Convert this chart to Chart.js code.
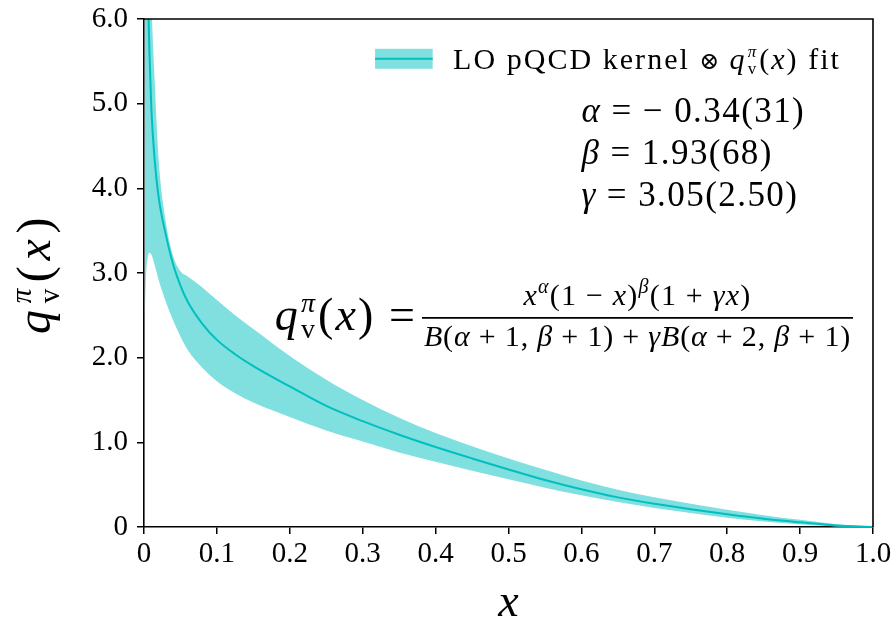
<!DOCTYPE html>
<html>
<head>
<meta charset="utf-8">
<script src="https://cdn.jsdelivr.net/npm/chart.js@4.4.1/dist/chart.umd.min.js"></script>
<style>
  body { margin: 0; background: #fff; }
  #c { display: block; }
</style>
</head>
<body>
<canvas id="c" width="895" height="622"></canvas>
<script>
// x grid and the values
const xs = [0.001, 0.003, 0.005, 0.0075, 0.01, 0.015, 0.02, 0.03, 0.04, 0.05, 0.06, 0.08, 0.1, 0.125, 0.15, 0.2, 0.25, 0.3, 0.35, 0.4, 0.45, 0.5, 0.55, 0.6, 0.65, 0.7, 0.75, 0.8, 0.85, 0.9, 0.95, 1.0]
const fitLine = [9.5, 7.2, 6.4, 5.6, 4.95, 4.3, 3.9, 3.45, 3.1, 2.85, 2.66, 2.40, 2.21, 2.04, 1.90, 1.66, 1.43, 1.25, 1.09, 0.945, 0.81, 0.68, 0.555, 0.445, 0.35, 0.275, 0.21, 0.15, 0.097, 0.055, 0.018, 0]
const bandHigh = [14, 11, 9, 7.4, 6.3, 5.2, 4.35, 3.6, 3.2, 3.02, 2.96, 2.83, 2.68, 2.50, 2.34, 2.02, 1.74, 1.50, 1.29, 1.11, 0.955, 0.81, 0.675, 0.55, 0.44, 0.35, 0.275, 0.205, 0.14, 0.085, 0.033, 0]
const bandLow = [2.5, 3.0, 3.18, 3.24, 3.22, 3.08, 2.92, 2.66, 2.44, 2.25, 2.09, 1.88, 1.72, 1.58, 1.47, 1.30, 1.14, 1.01, 0.88, 0.77, 0.665, 0.565, 0.465, 0.375, 0.295, 0.225, 0.165, 0.11, 0.065, 0.03, 0.007, 0]

const xTicks = [0, 0.1, 0.2, 0.3, 0.4, 0.5, 0.6, 0.7, 0.8, 0.9, 1.0]
const xTickLabels = ['0', '0.1', '0.2', '0.3', '0.4', '0.5', '0.6', '0.7', '0.8', '0.9', '1.0']
const yTicks = [0, 1, 2, 3, 4, 5, 6]
const yTickLabels = ['0', '1.0', '2.0', '3.0', '4.0', '5.0', '6.0']

const paramNames = ['α', 'β', 'γ']
const paramValues = ['− 0.34(31)', '1.93(68)', '3.05(2.50)']

const bandColor = '#80dfdf'
const lineColor = '#00bfbf'
const serif = '"Liberation Serif", "DejaVu Serif", serif'

function pts(ys) {
    return xs.map((x, i) => ({x: x, y: ys[i]}))
}

function fontOf(size, italic) {
    return (italic ? 'italic ' : '') + size + 'px ' + serif
}

// runs: {t, s, it, dy} or {sup, sub, s, up, down}
function runsWidth(ctx, runs) {
    let w = 0
    for (const r of runs) {
        if (r.sup !== undefined) {
            ctx.font = fontOf(r.s, true)
            const a = ctx.measureText(r.sup).width
            ctx.font = fontOf(r.s, false)
            const b = ctx.measureText(r.sub).width
            w += Math.max(a, b) + 2
        } else {
            ctx.font = fontOf(r.s, r.it)
            w += ctx.measureText(r.t).width
        }
    }
    return w
}

function charCount(runs) {
    let n = 0
    for (const r of runs) n += r.sup !== undefined ? 1 : r.t.length
    return n
}

// opt.target: stretch letter spacing so the run fills that width; opt.ls: fixed spacing
function drawRuns(ctx, runs, x, y, align, opt) {
    opt = opt || {}
    let ls = opt.ls || 0
    ctx.letterSpacing = '0px'
    if (opt.target) ls = (opt.target - runsWidth(ctx, runs)) / charCount(runs)
    ctx.letterSpacing = ls + 'px'
    const w = runsWidth(ctx, runs)
    let cx = x
    if (align == 'center') cx = x - w / 2
    if (align == 'right') cx = x - w
    ctx.textAlign = 'left'
    ctx.textBaseline = 'alphabetic'
    for (const r of runs) {
        if (r.sup !== undefined) {
            ctx.font = fontOf(r.s, true)
            const a = ctx.measureText(r.sup).width
            ctx.fillText(r.sup, cx + 1, y - r.up)
            ctx.font = fontOf(r.s, false)
            const b = ctx.measureText(r.sub).width
            ctx.fillText(r.sub, cx + 1, y + r.down)
            cx += Math.max(a, b) + 2
        } else {
            ctx.font = fontOf(r.s, r.it)
            ctx.fillText(r.t, cx, y + (r.dy || 0))
            cx += ctx.measureText(r.t).width
        }
    }
    ctx.letterSpacing = '0px'
    return ls
}

const decor = {
    id: 'decor',
    afterDraw(chart) {
        const ctx = chart.ctx
        const a = chart.chartArea
        const sx = chart.scales.x
        const sy = chart.scales.y
        ctx.save()
        ctx.fillStyle = '#000'
        ctx.strokeStyle = '#000'

        // top and right spines
        ctx.lineWidth = 1.6
        ctx.beginPath()
        ctx.moveTo(a.left, a.top)
        ctx.lineTo(a.right, a.top)
        ctx.lineTo(a.right, a.bottom)
        ctx.stroke()

        // legend
        const lx0 = sx.getPixelForValue(0.317)
        const lx1 = sx.getPixelForValue(0.396)
        const ly = sy.getPixelForValue(5.53)
        ctx.fillStyle = bandColor
        ctx.fillRect(lx0, ly - 10, lx1 - lx0, 20)
        ctx.strokeStyle = lineColor
        ctx.lineWidth = 2
        ctx.beginPath()
        ctx.moveTo(lx0, ly)
        ctx.lineTo(lx1, ly)
        ctx.stroke()
        ctx.fillStyle = '#000'
        drawRuns(ctx, [
            {t: 'LO pQCD kernel ', s: 30},
            {t: '⊗ ', s: 24},
            {t: 'q', s: 30, it: true},
            {sup: 'π', sub: 'v', s: 17, up: 12, down: 5},
            {t: '(', s: 30},
            {t: 'x', s: 30, it: true},
            {t: ') fit', s: 30}
        ], sx.getPixelForValue(0.424), ly + 10, 'left', {target: sx.getPixelForValue(0.956) - sx.getPixelForValue(0.424)})

        // fit parameters
        const px0 = sx.getPixelForValue(0.6)
        const pRuns = paramNames.map((n, i) => [
            {t: n, s: 35, it: true},
            {t: ' = ', s: 35},
            {t: paramValues[i], s: 35}
        ])
        const pls = drawRuns(ctx, pRuns[0], px0, sy.getPixelForValue(4.78), 'left',
            {target: sx.getPixelForValue(0.907) - px0})
        for (let i = 1; i < pRuns.length; i++) {
            drawRuns(ctx, pRuns[i], px0, sy.getPixelForValue(4.78) + i * 42, 'left', {ls: pls})
        }

        // formula
        const den = [
            {t: 'B', s: 30, it: true}, {t: '(', s: 30}, {t: 'α', s: 30, it: true}, {t: ' + 1, ', s: 30},
            {t: 'β', s: 30, it: true}, {t: ' + 1) + ', s: 30}, {t: 'γB', s: 30, it: true}, {t: '(', s: 30},
            {t: 'α', s: 30, it: true}, {t: ' + 2, ', s: 30}, {t: 'β', s: 30, it: true}, {t: ' + 1)', s: 30}
        ]
        const num = [
            {t: 'x', s: 30, it: true}, {t: 'α', s: 20, it: true, dy: -12}, {t: '(1 − ', s: 30},
            {t: 'x', s: 30, it: true}, {t: ')', s: 30}, {t: 'β', s: 20, it: true, dy: -12},
            {t: '(1 + ', s: 30}, {t: 'γx', s: 30, it: true}, {t: ')', s: 30}
        ]
        const barR = sx.getPixelForValue(0.9726)
        const barL = sx.getPixelForValue(0.3813)
        const barY = sy.getPixelForValue(2.47)
        ctx.lineWidth = 1.6
        ctx.strokeStyle = '#000'
        ctx.beginPath()
        ctx.moveTo(barL, barY)
        ctx.lineTo(barR, barY)
        ctx.stroke()
        const fls = drawRuns(ctx, den, (barL + barR) / 2, barY + 28, 'center', {target: barR - barL - 4})
        drawRuns(ctx, num, (barL + barR) / 2, barY - 13, 'center', {ls: fls * 1.5})
        drawRuns(ctx, [
            {t: 'q', s: 46, it: true},
            {sup: 'π', sub: 'v', s: 28, up: 18, down: 8},
            {t: '(', s: 46},
            {t: 'x', s: 46, it: true},
            {t: ') =', s: 46}
        ], barL - 5, barY + 12, 'right', {target: barL - 5 - sx.getPixelForValue(0.1794)})

        // axis titles
        drawRuns(ctx, [{t: 'x', s: 46, it: true}], (a.left + a.right) / 2, 616, 'center')
        ctx.translate(50, (a.top + a.bottom) / 2)
        ctx.rotate(-Math.PI / 2)
        drawRuns(ctx, [
            {t: 'q', s: 48, it: true},
            {sup: 'π', sub: 'v', s: 29, up: 19, down: 9},
            {t: '(', s: 48},
            {t: 'x', s: 48, it: true},
            {t: ')', s: 48}
        ], 0, 0, 'center', {target: 122})
        ctx.restore()
    }
}

const axisCommon = {
    type: 'linear',
    grid: {drawOnChartArea: false, drawTicks: true, tickLength: 7, color: '#000', lineWidth: 1.5},
    border: {display: true, color: '#000', width: 1.6},
    ticks: {color: '#000', font: {family: serif, size: 29}}
}

new Chart(document.getElementById('c'), {
    type: 'line',
    data: {
        datasets: [
            {
                data: pts(bandHigh), borderWidth: 0, pointRadius: 0,
                backgroundColor: bandColor, fill: '+1', order: 2,
                cubicInterpolationMode: 'monotone'
            },
            {
                data: pts(bandLow), borderWidth: 0, pointRadius: 0,
                backgroundColor: bandColor, fill: false, order: 2,
                cubicInterpolationMode: 'monotone'
            },
            {
                data: pts(fitLine), borderColor: lineColor, borderWidth: 2, pointRadius: 0,
                fill: false, order: 0, cubicInterpolationMode: 'monotone'
            }
        ]
    },
    options: {
        responsive: false,
        animation: false,
        devicePixelRatio: 1,
        layout: {padding: {top: 19, right: 22, left: 0, bottom: 0}},
        plugins: {legend: {display: false}, tooltip: {enabled: false}},
        scales: {
            x: {
                ...axisCommon,
                min: 0, max: 1,
                afterBuildTicks: s => { s.ticks = xTicks.map(v => ({value: v})) },
                afterFit: s => { s.height = 95; s.paddingLeft = 0; s.paddingRight = 0 },
                ticks: {...axisCommon.ticks, padding: 3, maxRotation: 0,
                    callback: (v, i) => xTickLabels[i]}
            },
            y: {
                ...axisCommon,
                min: 0, max: 6,
                afterBuildTicks: s => { s.ticks = yTicks.map(v => ({value: v})) },
                afterFit: s => { s.width = 144; s.paddingTop = 0; s.paddingBottom = 0 },
                ticks: {...axisCommon.ticks, padding: 9,
                    callback: (v, i) => yTickLabels[i]}
            }
        }
    },
    plugins: [decor]
})
</script>
</body>
</html>
